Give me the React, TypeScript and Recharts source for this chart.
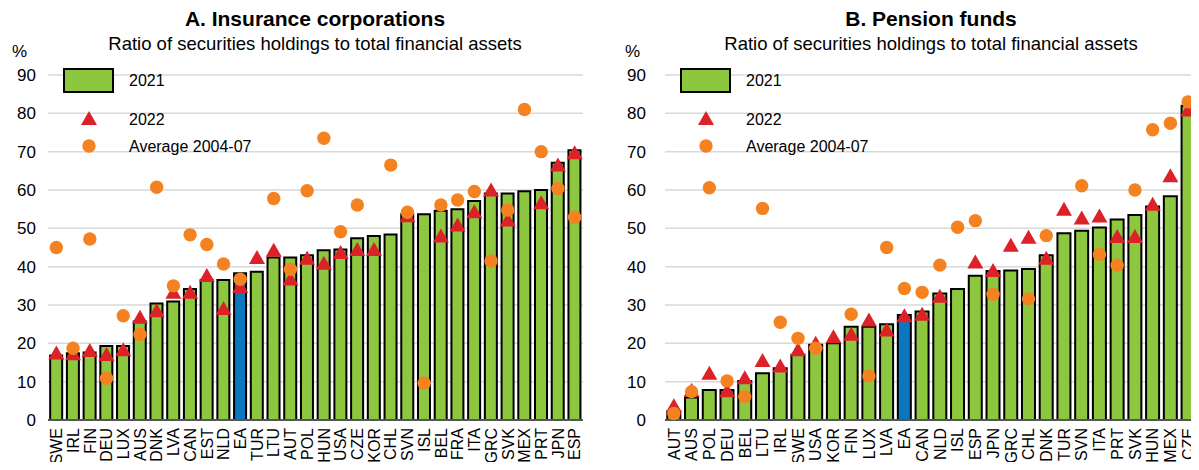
import React from 'react';
import { ComposedChart, Bar, Cell, Line, XAxis, YAxis, CartesianGrid, Legend } from 'recharts';

// Panel A: insurance corporations
const insCountries = ['SWE', 'IRL', 'FIN', 'DEU', 'LUX', 'AUS', 'DNK', 'LVA', 'CAN', 'EST', 'NLD', 'EA', 'TUR', 'LTU', 'AUT', 'POL', 'HUN', 'USA', 'CZE', 'KOR', 'CHL', 'SVN', 'ISL', 'BEL', 'FRA', 'ITA', 'GRC', 'SVK', 'MEX', 'PRT', 'JPN', 'ESP'];
const ins2021 = [16.8, 17.4, 17.6, 19.3, 19.3, 25.7, 30.4, 30.9, 34.2, 36.5, 36.5, 38.3, 38.7, 42.4, 42.4, 43.0, 44.3, 44.5, 47.4, 48.0, 48.4, 53.7, 53.7, 54.6, 55.0, 57.1, 59.1, 59.1, 59.7, 60.0, 67.1, 70.4];
const ins2022 = [17.5, 17.3, 18.1, 17.1, 18.3, 26.8, 28.5, 33.3, 33.3, 37.7, 29.1, 34.8, 42.4, 44.3, 36.8, 42.2, 40.9, 43.7, 44.5, 44.5, null, 53.3, null, 48.0, 50.9, 54.3, 60.0, 52.2, null, 56.7, 66.5, 69.7];
const insAvg = [45.0, 18.7, 47.2, 10.9, 27.2, 22.3, 60.7, 35.0, 48.3, 45.8, 40.7, 36.7, null, 57.8, 39.3, 59.8, 73.5, 49.1, 56.1, null, 66.5, 54.2, 9.6, 56.1, 57.4, 59.6, 41.5, 54.8, 81.0, 70.0, 60.4, 52.9];

// Panel B: pension funds
const penCountries = ['AUT', 'AUS', 'POL', 'DEU', 'BEL', 'LTU', 'IRL', 'SWE', 'USA', 'KOR', 'FIN', 'LUX', 'LVA', 'EA', 'CAN', 'NLD', 'ISL', 'ESP', 'JPN', 'GRC', 'CHL', 'DNK', 'TUR', 'SVN', 'ITA', 'PRT', 'SVK', 'HUN', 'MEX', 'CZE'];
const pen2021 = [2.3, 5.9, 7.8, 7.8, 10.2, 12.2, 13.5, 17.0, 19.6, 20.0, 24.3, 24.3, 25.0, 27.4, 28.3, 33.0, 34.2, 37.6, 38.9, 39.0, 39.4, 43.0, 48.7, 49.4, 50.2, 52.3, 53.5, 55.7, 58.4, 82.0];
const pen2022 = [3.7, 7.7, 12.2, 7.6, 11.0, 15.5, 14.1, 18.3, 20.0, 21.7, 22.4, 26.1, 23.5, 27.2, 27.6, 32.3, null, 41.2, 39.0, 45.6, 47.7, 42.2, 55.0, 52.7, 53.2, 47.9, 47.9, 56.3, 63.7, 80.9];
const penAvg = [1.7, 7.4, 60.6, 10.2, 6.1, 55.2, 25.5, 21.3, 18.7, null, 27.6, 11.5, 45.0, 34.3, 33.3, 40.4, 50.3, 52.0, 32.8, null, 31.6, 48.1, null, 61.1, 43.2, 40.4, 60.0, 75.7, 77.4, 83.0];

const yTicks = [0, 10, 20, 30, 40, 50, 60, 70, 80, 90];

const GREEN = '#8DC63F';
const BLUE = '#0A77BF';
const RED = '#DC2128';
const ORANGE = '#F58220';
const FONT = '"Liberation Sans", Arial, sans-serif';

const buildRows = (cats: string[], a: number[], b: (number | null)[], c: (number | null)[]) =>
  cats.map((name, i) => ({ name, v2021: a[i], v2022: b[i], avg: c[i] }));

const insData = buildRows(insCountries, ins2021, ins2022, insAvg);
const penData = buildRows(penCountries, pen2021, pen2022, penAvg);

const triangleDot = (props: any) => {
  const { cx, cy, value, index } = props;
  if (value == null || cx == null || cy == null) return <g key={`t${index}`} />;
  return <path key={`t${index}`} d={`M${cx},${cy - 7.5} L${cx + 8},${cy + 6.5} L${cx - 8},${cy + 6.5} Z`} fill={RED} />;
};

const circleDot = (props: any) => {
  const { cx, cy, value, index } = props;
  if (value == null || cx == null || cy == null) return <g key={`c${index}`} />;
  return <circle key={`c${index}`} cx={cx} cy={cy} r={6.7} fill={ORANGE} />;
};

const XTick = (props: any) => {
  const { x, y, payload } = props;
  return (
    <text x={x} y={y} dy="0.36em" transform={`rotate(-90, ${x}, ${y})`} textAnchor="end" fontSize={16} fontFamily={FONT} fill="#000">
      {payload.value}
    </text>
  );
};

const LegendBox = () => (
  <svg width={200} height={100} style={{ overflow: 'visible' }}>
    <rect x={1} y={1} width={49} height={23} fill={GREEN} stroke="#000" strokeWidth={2} />
    <text x={66} y={18} fontSize={16} fontFamily={FONT} fill="#000">2021</text>
    <path d={`M26,${43} L34,${57} L18,${57} Z`} fill={RED} />
    <text x={66} y={57} fontSize={16} fontFamily={FONT} fill="#000">2022</text>
    <circle cx={26} cy={78} r={6.7} fill={ORANGE} />
    <text x={66} y={84} fontSize={16} fontFamily={FONT} fill="#000">Average 2004-07</text>
  </svg>
);

interface PanelProps {
  data: any[];
  width: number;
  axisWidth: number;
  rightGap: number;
  tickGap: number;
}

const Panel = ({ data, width, axisWidth, rightGap, tickGap }: PanelProps) => (
  <ComposedChart
    width={width}
    height={470}
    data={data}
    margin={{ top: 75, right: rightGap, bottom: 0, left: 0 }}
    barCategoryGap="13%"
  >
    <CartesianGrid vertical={false} stroke="#d9d9d9" strokeWidth={1.5} />
    <XAxis
      dataKey="name"
      interval={0}
      height={50}
      tickLine={false}
      tickSize={0}
      tickMargin={8}
      axisLine={{ stroke: '#555', strokeWidth: 2 }}
      tick={<XTick />}
    />
    <YAxis
      width={axisWidth}
      domain={[0, 90]}
      ticks={yTicks}
      tickLine={false}
      axisLine={false}
      tickSize={0}
      tickMargin={tickGap}
      tick={{ fontSize: 17, fill: '#000', fontFamily: FONT }}
    />
    <Legend
      layout="vertical"
      align="center"
      verticalAlign="middle"
      content={<LegendBox />}
      wrapperStyle={{ left: axisWidth + 15, top: 68, width: 200, height: 100 }}
    />
    <Bar dataKey="v2021" name="2021" stroke="#000" strokeWidth={2} isAnimationActive={false}>
      {data.map((d) => (
        <Cell key={d.name} fill={d.name === 'EA' ? BLUE : GREEN} />
      ))}
    </Bar>
    <Line dataKey="v2022" name="2022" stroke="none" dot={triangleDot} activeDot={false} isAnimationActive={false} />
    <Line dataKey="avg" name="Average 2004-07" stroke="none" dot={circleDot} activeDot={false} isAnimationActive={false} />
  </ComposedChart>
);

export default function App() {
  return (
    <div style={{ position: 'relative', width: 1199, height: 470, margin: -8, background: '#fff', fontFamily: FONT }}>
      <div style={{ position: 'absolute', left: 0, top: 0 }}>
        <Panel data={insData} width={600} axisWidth={48} rightGap={17} tickGap={12} />
      </div>
      <div style={{ position: 'absolute', left: 600, top: 0 }}>
        <Panel data={penData} width={599} axisWidth={65} rightGap={2} tickGap={19} />
      </div>
      <svg width={1199} height={470} style={{ position: 'absolute', left: 0, top: 0, pointerEvents: 'none' }}>
        <text x={315} y={26} textAnchor="middle" fontSize={21} fontWeight="bold" fontFamily={FONT}>A. Insurance corporations</text>
        <text x={315} y={50} textAnchor="middle" fontSize={18.5} fontFamily={FONT}>Ratio of securities holdings to total financial assets</text>
        <text x={12} y={57} fontSize={17} fontFamily={FONT}>%</text>
        <text x={931} y={26} textAnchor="middle" fontSize={21} fontWeight="bold" fontFamily={FONT}>B. Pension funds</text>
        <text x={931} y={50} textAnchor="middle" fontSize={18.5} fontFamily={FONT}>Ratio of securities holdings to total financial assets</text>
        <text x={625} y={57} fontSize={17} fontFamily={FONT}>%</text>
      </svg>
    </div>
  );
}
